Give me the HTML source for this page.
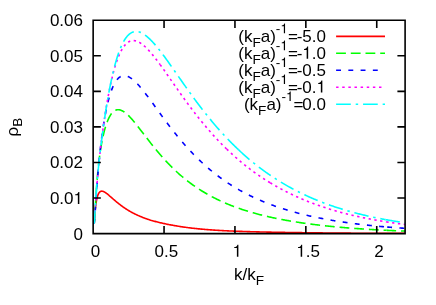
<!DOCTYPE html>
<html><head><meta charset="utf-8"><title>plot</title>
<style>
html,body{margin:0;padding:0;background:#fff;}
body{width:436px;height:305px;overflow:hidden;}
svg{display:block;opacity:0.999;will-change:transform;}
text{font-family:"Liberation Sans",sans-serif;font-size:17px;fill:#000;}
.s{font-size:13.6px;}
.h{fill:none;}
</style></head><body>
<svg width="436" height="305" viewBox="0 0 436 305">
<rect x="0" y="0" width="436" height="305" fill="#fff"/>
<defs><clipPath id="c"><rect x="93.15" y="20.20" width="311.95" height="213.40"/></clipPath></defs>
<g fill="none" stroke-width="1.60" clip-path="url(#c)">
<path d="M94.12,223.82 L94.14,223.52 L94.16,223.21 L94.18,222.90 L94.20,222.58 L94.22,222.26 L94.24,221.93 L94.27,221.60 L94.29,221.26 L94.31,220.92 L94.34,220.57 L94.36,220.22 L94.39,219.87 L94.41,219.51 L94.44,219.14 L94.47,218.78 L94.49,218.40 L94.52,218.03 L94.55,217.65 L94.58,217.27 L94.61,216.88 L94.64,216.49 L94.67,216.10 L94.70,215.71 L94.73,215.31 L94.76,214.91 L94.80,214.51 L94.83,214.11 L94.87,213.70 L94.90,213.29 L94.94,212.88 L94.97,212.47 L95.01,212.06 L95.05,211.64 L95.09,211.23 L95.13,210.82 L95.17,210.40 L95.21,209.98 L95.26,209.57 L95.30,209.15 L95.34,208.74 L95.39,208.32 L95.44,207.91 L95.48,207.49 L95.53,207.08 L95.58,206.67 L95.63,206.26 L95.68,205.85 L95.73,205.44 L95.79,205.04 L95.84,204.64 L95.90,204.24 L95.95,203.84 L96.01,203.45 L96.07,203.05 L96.13,202.67 L96.19,202.28 L96.26,201.90 L96.32,201.53 L96.39,201.15 L96.45,200.78 L96.52,200.42 L96.59,200.06 L96.66,199.71 L96.73,199.36 L96.81,199.01 L96.88,198.67 L96.96,198.34 L97.04,198.01 L97.12,197.69 L97.20,197.37 L97.29,197.06 L97.37,196.76 L97.46,196.46 L97.55,196.17 L97.64,195.89 L97.73,195.61 L97.83,195.34 L97.92,195.08 L98.02,194.82 L98.12,194.58 L98.22,194.34 L98.33,194.11 L98.44,193.88 L98.55,193.67 L98.66,193.46 L98.77,193.26 L98.89,193.07 L99.01,192.89 L99.13,192.71 L99.25,192.55 L99.38,192.39 L99.50,192.25 L99.64,192.11 L99.77,191.98 L99.91,191.86 L100.05,191.75 L100.19,191.65 L100.33,191.56 L100.48,191.47 L100.63,191.40 L100.79,191.34 L100.95,191.29 L101.11,191.24 L101.27,191.21 L101.44,191.18 L101.61,191.17 L101.79,191.16 L101.97,191.17 L102.15,191.18 L102.33,191.21 L102.52,191.24 L102.72,191.29 L102.92,191.34 L103.12,191.41 L103.32,191.48 L103.53,191.56 L103.75,191.66 L103.97,191.76 L104.19,191.87 L104.42,191.99 L104.65,192.13 L104.89,192.27 L105.13,192.42 L105.38,192.58 L105.63,192.75 L105.89,192.93 L106.15,193.12 L106.42,193.31 L106.70,193.52 L106.98,193.74 L107.26,193.96 L107.55,194.19 L107.85,194.44 L108.16,194.69 L108.47,194.94 L108.78,195.21 L109.10,195.49 L109.43,195.77 L109.77,196.06 L110.11,196.36 L110.47,196.66 L110.82,196.98 L111.19,197.30 L111.56,197.62 L111.94,197.96 L112.33,198.30 L112.73,198.64 L113.13,199.00 L113.54,199.36 L113.97,199.72 L114.40,200.09 L114.84,200.47 L115.28,200.85 L115.74,201.24 L116.21,201.63 L116.68,202.03 L117.17,202.43 L117.67,202.83 L118.17,203.24 L118.69,203.65 L119.22,204.07 L119.76,204.49 L120.31,204.91 L120.87,205.33 L121.44,205.76 L122.03,206.19 L122.62,206.62 L123.23,207.05 L123.85,207.48 L124.49,207.92 L125.14,208.35 L125.80,208.79 L126.47,209.23 L127.16,209.66 L127.86,210.10 L128.58,210.54 L129.31,210.97 L130.06,211.40 L130.82,211.84 L131.60,212.27 L132.40,212.70 L133.21,213.13 L134.04,213.55 L134.88,213.98 L135.74,214.40 L136.62,214.81 L137.52,215.23 L138.44,215.64 L139.38,216.05 L140.33,216.45 L141.31,216.85 L142.30,217.25 L143.32,217.64 L144.35,218.03 L145.41,218.41 L146.49,218.79 L147.59,219.16 L148.72,219.53 L149.87,219.89 L150.72,220.16 L151.58,220.41 L152.43,220.66 L153.28,220.91 L154.14,221.15 L154.99,221.38 L155.84,221.61 L156.70,221.83 L157.55,222.05 L158.40,222.26 L159.26,222.47 L160.11,222.68 L160.97,222.88 L161.82,223.07 L162.67,223.27 L163.53,223.46 L164.38,223.64 L165.23,223.82 L166.09,224.00 L166.94,224.18 L167.79,224.35 L168.65,224.52 L169.50,224.68 L170.36,224.84 L171.21,225.00 L172.06,225.16 L172.92,225.31 L173.77,225.47 L174.62,225.62 L175.48,225.76 L176.33,225.91 L177.18,226.05 L178.04,226.19 L178.89,226.32 L179.74,226.46 L180.60,226.59 L181.45,226.72 L182.31,226.84 L183.16,226.97 L184.01,227.09 L184.87,227.21 L185.72,227.33 L186.57,227.45 L187.43,227.56 L188.28,227.67 L189.13,227.78 L189.99,227.89 L190.84,227.99 L191.70,228.09 L192.55,228.19 L193.40,228.29 L194.26,228.39 L195.11,228.48 L195.96,228.57 L196.82,228.66 L197.67,228.75 L198.52,228.84 L199.38,228.92 L200.23,229.01 L201.09,229.09 L201.94,229.17 L202.79,229.24 L203.65,229.32 L204.50,229.39 L205.35,229.46 L206.21,229.53 L207.06,229.60 L207.91,229.67 L208.77,229.73 L209.62,229.80 L210.48,229.86 L211.33,229.92 L212.18,229.98 L213.04,230.04 L213.89,230.09 L214.74,230.15 L215.60,230.20 L216.45,230.26 L217.30,230.31 L218.16,230.36 L219.01,230.41 L219.86,230.46 L220.72,230.51 L221.57,230.55 L222.43,230.60 L223.28,230.64 L224.13,230.69 L224.99,230.73 L225.84,230.77 L226.69,230.81 L227.55,230.85 L228.40,230.89 L229.25,230.93 L230.11,230.97 L230.96,231.00 L231.82,231.04 L232.67,231.07 L233.52,231.11 L234.38,231.14 L235.23,231.18 L236.08,231.21 L236.94,231.24 L237.79,231.27 L238.64,231.30 L239.50,231.33 L240.35,231.36 L241.21,231.39 L242.06,231.42 L242.91,231.45 L243.77,231.48 L244.62,231.51 L245.47,231.53 L246.33,231.56 L247.18,231.58 L248.03,231.61 L248.89,231.63 L249.74,231.66 L250.60,231.68 L251.45,231.71 L252.30,231.73 L253.16,231.75 L254.01,231.78 L254.86,231.80 L255.72,231.82 L256.57,231.84 L257.42,231.86 L258.28,231.88 L259.13,231.90 L259.98,231.93 L260.84,231.95 L261.69,231.97 L262.55,231.98 L263.40,232.00 L264.25,232.02 L265.11,232.04 L265.96,232.06 L266.81,232.08 L267.67,232.10 L268.52,232.12 L269.37,232.13 L270.23,232.15 L271.08,232.17 L271.94,232.18 L272.79,232.20 L273.64,232.22 L274.50,232.23 L275.35,232.25 L276.20,232.27 L277.06,232.28 L277.91,232.30 L278.76,232.31 L279.62,232.33 L280.47,232.34 L281.33,232.36 L282.18,232.37 L283.03,232.39 L283.89,232.40 L284.74,232.42 L285.59,232.43 L286.45,232.45 L287.30,232.46 L288.15,232.47 L289.01,232.49 L289.86,232.50 L290.72,232.51 L291.57,232.53 L292.42,232.54 L293.28,232.55 L294.13,232.56 L294.98,232.58 L295.84,232.59 L296.69,232.60 L297.54,232.61 L298.40,232.63 L299.25,232.64 L300.10,232.65 L300.96,232.66 L301.81,232.67 L302.67,232.68 L303.52,232.69 L304.37,232.71 L305.23,232.72 L306.08,232.73 L306.93,232.74 L307.79,232.75 L308.64,232.76 L309.49,232.77 L310.35,232.78 L311.20,232.79 L312.06,232.80 L312.91,232.81 L313.76,232.82 L314.62,232.83 L315.47,232.84 L316.32,232.85 L317.18,232.86 L318.03,232.87 L318.88,232.88 L319.74,232.89 L320.59,232.90 L321.45,232.91 L322.30,232.92 L323.15,232.93 L324.01,232.93 L324.86,232.94 L325.71,232.95 L326.57,232.96 L327.42,232.97 L328.27,232.98 L329.13,232.99 L329.98,232.99 L330.84,233.00 L331.69,233.01 L332.54,233.02 L333.40,233.03 L334.25,233.03 L335.10,233.04 L335.96,233.05 L336.81,233.06 L337.66,233.07 L338.52,233.07 L339.37,233.08 L340.23,233.09 L341.08,233.09 L341.93,233.10 L342.79,233.11 L343.64,233.12 L344.49,233.12 L345.35,233.13 L346.20,233.14 L347.05,233.14 L347.91,233.15 L348.76,233.16 L349.61,233.16 L350.47,233.17 L351.32,233.18 L352.18,233.18 L353.03,233.19 L353.88,233.19 L354.74,233.20 L355.59,233.21 L356.44,233.21 L357.30,233.22 L358.15,233.22 L359.00,233.23 L359.86,233.24 L360.71,233.24 L361.57,233.25 L362.42,233.25 L363.27,233.26 L364.13,233.26 L364.98,233.27 L365.83,233.27 L366.69,233.28 L367.54,233.28 L368.39,233.29 L369.25,233.29 L370.10,233.30 L370.96,233.30 L371.81,233.31 L372.66,233.31 L373.52,233.31 L374.37,233.32 L375.22,233.32 L376.08,233.33 L376.93,233.33 L377.78,233.33 L378.64,233.34 L379.49,233.34 L380.35,233.35 L381.20,233.35 L382.05,233.35 L382.91,233.36 L383.76,233.36 L384.61,233.36 L385.47,233.37 L386.32,233.37 L387.17,233.37 L388.03,233.38 L388.88,233.38 L389.73,233.38 L390.59,233.38 L391.44,233.39 L392.30,233.39 L393.15,233.39 L394.00,233.39 L394.86,233.40 L395.71,233.40 L396.56,233.40 L397.42,233.40 L398.27,233.40 L399.12,233.41 L399.98,233.41 L400.83,233.41 L401.69,233.41 L402.54,233.41 L403.39,233.41 L404.25,233.42 L405.10,233.42" stroke="#ff0000"/>
<path d="M94.18,223.91 L94.20,223.74 L94.22,223.56 L94.24,223.36 L94.27,223.14 L94.29,222.91 L94.31,222.66 L94.34,222.40 L94.36,222.12 L94.39,221.82 L94.41,221.51 L94.44,221.18 L94.47,220.83 L94.49,220.47 L94.52,220.09 L94.55,219.70 L94.58,219.28 L94.61,218.85 L94.64,218.40 L94.67,217.94 L94.70,217.46 L94.73,216.96 L94.76,216.44 L94.80,215.91 L94.83,215.36 L94.87,214.79 L94.90,214.20 L94.94,213.60 L94.97,212.98 L95.01,212.34 L95.05,211.69 L95.09,211.02 L95.13,210.33 L95.17,209.63 L95.21,208.91 L95.26,208.17 L95.30,207.42 L95.34,206.66 L95.39,205.88 L95.44,205.09 L95.48,204.28 L95.53,203.46 L95.58,202.62 L95.63,201.78 L95.68,200.92 L95.73,200.05 L95.79,199.16 L95.84,198.27 L95.90,197.37 L95.95,196.46 L96.01,195.53 L96.07,194.60 L96.13,193.67 L96.19,192.72 L96.26,191.77 L96.32,190.81 L96.39,189.84 L96.45,188.87 L96.52,187.89 L96.59,186.91 L96.66,185.92 L96.73,184.93 L96.81,183.93 L96.88,182.94 L96.96,181.94 L97.04,180.93 L97.12,179.93 L97.20,178.92 L97.29,177.92 L97.37,176.91 L97.46,175.90 L97.55,174.89 L97.64,173.88 L97.73,172.88 L97.83,171.87 L97.92,170.86 L98.02,169.85 L98.12,168.85 L98.22,167.84 L98.33,166.84 L98.44,165.84 L98.55,164.84 L98.66,163.84 L98.77,162.84 L98.89,161.85 L99.01,160.85 L99.13,159.86 L99.25,158.87 L99.38,157.89 L99.50,156.90 L99.64,155.92 L99.77,154.94 L99.91,153.97 L100.05,152.99 L100.19,152.02 L100.33,151.05 L100.48,150.09 L100.63,149.12 L100.79,148.16 L100.95,147.20 L101.11,146.25 L101.27,145.30 L101.44,144.35 L101.61,143.41 L101.79,142.47 L101.97,141.53 L102.15,140.60 L102.33,139.67 L102.52,138.74 L102.72,137.82 L102.92,136.91 L103.12,136.00 L103.32,135.09 L103.53,134.20 L103.75,133.30 L103.97,132.42 L104.19,131.54 L104.42,130.67 L104.65,129.81 L104.89,128.95 L105.13,128.11 L105.38,127.27 L105.63,126.44 L105.89,125.63 L106.15,124.82 L106.42,124.03 L106.70,123.25 L106.98,122.48 L107.26,121.73 L107.55,120.99 L107.85,120.27 L108.16,119.56 L108.47,118.87 L108.78,118.20 L109.10,117.54 L109.43,116.91 L109.77,116.29 L110.11,115.70 L110.47,115.13 L110.82,114.58 L111.19,114.06 L111.56,113.56 L111.94,113.08 L112.33,112.64 L112.73,112.22 L113.13,111.83 L113.54,111.47 L113.97,111.14 L114.40,110.84 L114.84,110.57 L115.28,110.34 L115.74,110.14 L116.21,109.97 L116.68,109.84 L117.17,109.75 L117.67,109.70 L118.17,109.68 L118.69,109.70 L119.22,109.76 L119.76,109.86 L120.31,110.00 L120.87,110.19 L121.44,110.41 L122.03,110.68 L122.62,110.99 L123.23,111.34 L123.85,111.73 L124.49,112.17 L125.14,112.65 L125.80,113.17 L126.47,113.74 L127.16,114.35 L127.86,115.00 L128.58,115.69 L129.31,116.43 L130.06,117.21 L130.82,118.04 L131.60,118.90 L132.40,119.80 L133.21,120.75 L134.04,121.73 L134.88,122.75 L135.74,123.81 L136.62,124.91 L137.52,126.05 L138.44,127.21 L139.38,128.42 L140.33,129.65 L141.31,130.92 L142.30,132.21 L143.32,133.54 L144.35,134.90 L145.41,136.28 L146.49,137.68 L147.59,139.11 L148.72,140.56 L149.87,142.03 L150.72,143.12 L151.58,144.20 L152.43,145.28 L153.28,146.34 L154.14,147.40 L154.99,148.45 L155.84,149.49 L156.70,150.52 L157.55,151.55 L158.40,152.56 L159.26,153.56 L160.11,154.56 L160.97,155.54 L161.82,156.51 L162.67,157.48 L163.53,158.43 L164.38,159.37 L165.23,160.30 L166.09,161.23 L166.94,162.14 L167.79,163.04 L168.65,163.93 L169.50,164.81 L170.36,165.67 L171.21,166.53 L172.06,167.38 L172.92,168.22 L173.77,169.04 L174.62,169.86 L175.48,170.66 L176.33,171.46 L177.18,172.24 L178.04,173.02 L178.89,173.78 L179.74,174.54 L180.60,175.28 L181.45,176.02 L182.31,176.74 L183.16,177.46 L184.01,178.17 L184.87,178.86 L185.72,179.55 L186.57,180.23 L187.43,180.90 L188.28,181.56 L189.13,182.21 L189.99,182.86 L190.84,183.49 L191.70,184.12 L192.55,184.73 L193.40,185.34 L194.26,185.94 L195.11,186.54 L195.96,187.12 L196.82,187.70 L197.67,188.27 L198.52,188.83 L199.38,189.38 L200.23,189.93 L201.09,190.47 L201.94,191.00 L202.79,191.52 L203.65,192.04 L204.50,192.55 L205.35,193.05 L206.21,193.55 L207.06,194.04 L207.91,194.52 L208.77,195.00 L209.62,195.47 L210.48,195.93 L211.33,196.39 L212.18,196.84 L213.04,197.29 L213.89,197.73 L214.74,198.16 L215.60,198.59 L216.45,199.02 L217.30,199.43 L218.16,199.84 L219.01,200.25 L219.86,200.65 L220.72,201.05 L221.57,201.44 L222.43,201.82 L223.28,202.20 L224.13,202.58 L224.99,202.95 L225.84,203.31 L226.69,203.67 L227.55,204.03 L228.40,204.38 L229.25,204.73 L230.11,205.07 L230.96,205.40 L231.82,205.74 L232.67,206.07 L233.52,206.39 L234.38,206.71 L235.23,207.03 L236.08,207.34 L236.94,207.65 L237.79,207.95 L238.64,208.26 L239.50,208.55 L240.35,208.85 L241.21,209.13 L242.06,209.42 L242.91,209.70 L243.77,209.98 L244.62,210.26 L245.47,210.53 L246.33,210.80 L247.18,211.06 L248.03,211.32 L248.89,211.58 L249.74,211.83 L250.60,212.09 L251.45,212.34 L252.30,212.58 L253.16,212.82 L254.01,213.06 L254.86,213.30 L255.72,213.53 L256.57,213.77 L257.42,213.99 L258.28,214.22 L259.13,214.44 L259.98,214.66 L260.84,214.88 L261.69,215.10 L262.55,215.31 L263.40,215.52 L264.25,215.73 L265.11,215.93 L265.96,216.14 L266.81,216.34 L267.67,216.53 L268.52,216.73 L269.37,216.92 L270.23,217.11 L271.08,217.30 L271.94,217.49 L272.79,217.67 L273.64,217.86 L274.50,218.04 L275.35,218.22 L276.20,218.39 L277.06,218.57 L277.91,218.74 L278.76,218.91 L279.62,219.08 L280.47,219.24 L281.33,219.41 L282.18,219.57 L283.03,219.73 L283.89,219.89 L284.74,220.05 L285.59,220.20 L286.45,220.36 L287.30,220.51 L288.15,220.66 L289.01,220.81 L289.86,220.95 L290.72,221.10 L291.57,221.24 L292.42,221.38 L293.28,221.52 L294.13,221.66 L294.98,221.80 L295.84,221.93 L296.69,222.07 L297.54,222.20 L298.40,222.33 L299.25,222.46 L300.10,222.59 L300.96,222.72 L301.81,222.84 L302.67,222.97 L303.52,223.09 L304.37,223.21 L305.23,223.33 L306.08,223.45 L306.93,223.56 L307.79,223.68 L308.64,223.80 L309.49,223.91 L310.35,224.02 L311.20,224.13 L312.06,224.24 L312.91,224.35 L313.76,224.46 L314.62,224.56 L315.47,224.67 L316.32,224.77 L317.18,224.87 L318.03,224.98 L318.88,225.08 L319.74,225.18 L320.59,225.27 L321.45,225.37 L322.30,225.47 L323.15,225.56 L324.01,225.66 L324.86,225.75 L325.71,225.84 L326.57,225.93 L327.42,226.02 L328.27,226.11 L329.13,226.20 L329.98,226.28 L330.84,226.37 L331.69,226.46 L332.54,226.54 L333.40,226.62 L334.25,226.71 L335.10,226.79 L335.96,226.87 L336.81,226.95 L337.66,227.03 L338.52,227.10 L339.37,227.18 L340.23,227.26 L341.08,227.33 L341.93,227.41 L342.79,227.48 L343.64,227.55 L344.49,227.62 L345.35,227.70 L346.20,227.77 L347.05,227.84 L347.91,227.91 L348.76,227.97 L349.61,228.04 L350.47,228.11 L351.32,228.17 L352.18,228.24 L353.03,228.30 L353.88,228.37 L354.74,228.43 L355.59,228.49 L356.44,228.55 L357.30,228.61 L358.15,228.67 L359.00,228.73 L359.86,228.79 L360.71,228.85 L361.57,228.91 L362.42,228.96 L363.27,229.02 L364.13,229.08 L364.98,229.13 L365.83,229.19 L366.69,229.24 L367.54,229.29 L368.39,229.34 L369.25,229.40 L370.10,229.45 L370.96,229.50 L371.81,229.55 L372.66,229.60 L373.52,229.65 L374.37,229.69 L375.22,229.74 L376.08,229.79 L376.93,229.84 L377.78,229.88 L378.64,229.93 L379.49,229.97 L380.35,230.02 L381.20,230.06 L382.05,230.10 L382.91,230.15 L383.76,230.19 L384.61,230.23 L385.47,230.27 L386.32,230.31" stroke="#00ff00" stroke-dasharray="9.80,4.90"/>
<path d="M386.32,230.31 L387.17,230.35 L388.03,230.39 L388.88,230.43 L389.73,230.47 L390.59,230.51 L391.44,230.54 L392.30,230.58 L393.15,230.62 L394.00,230.65 L394.86,230.69 L395.71,230.73 L396.56,230.76 L397.42,230.79 L398.27,230.83 L399.12,230.86 L399.98,230.90 L400.83,230.93 L401.69,230.96 L402.54,230.99 L403.39,231.02 L404.25,231.05 L405.10,231.08" stroke="#00ff00" stroke-dasharray="9.80,4.90"/>
<path d="M94.12,223.93 L94.14,223.82 L94.16,223.70 L94.18,223.56 L94.20,223.41 L94.22,223.25 L94.24,223.08 L94.27,222.89 L94.29,222.69 L94.31,222.48 L94.34,222.26 L94.36,222.02 L94.39,221.77 L94.41,221.51 L94.44,221.23 L94.47,220.95 L94.49,220.65 L94.52,220.33 L94.55,220.01 L94.58,219.66 L94.61,219.31 L94.64,218.94 L94.67,218.56 L94.70,218.17 L94.73,217.76 L94.76,217.33 L94.80,216.89 L94.83,216.44 L94.87,215.97 L94.90,215.49 L94.94,214.99 L94.97,214.48 L95.01,213.96 L95.05,213.41 L95.09,212.86 L95.13,212.28 L95.17,211.70 L95.21,211.09 L95.26,210.48 L95.30,209.84 L95.34,209.19 L95.39,208.53 L95.44,207.85 L95.48,207.16 L95.53,206.45 L95.58,205.72 L95.63,204.98 L95.68,204.22 L95.73,203.45 L95.79,202.67 L95.84,201.87 L95.90,201.05 L95.95,200.22 L96.01,199.37 L96.07,198.51 L96.13,197.64 L96.19,196.75 L96.26,195.85 L96.32,194.93 L96.39,194.00 L96.45,193.06 L96.52,192.10 L96.59,191.13 L96.66,190.14 L96.73,189.15 L96.81,188.14 L96.88,187.11 L96.96,186.08 L97.04,185.03 L97.12,183.97 L97.20,182.90 L97.29,181.82 L97.37,180.73 L97.46,179.62 L97.55,178.51 L97.64,177.38 L97.73,176.24 L97.83,175.10 L97.92,173.94 L98.02,172.77 L98.12,171.59 L98.22,170.41 L98.33,169.21 L98.44,168.01 L98.55,166.79 L98.66,165.57 L98.77,164.34 L98.89,163.10 L99.01,161.85 L99.13,160.60 L99.25,159.34 L99.38,158.07 L99.50,156.79 L99.64,155.51 L99.77,154.22 L99.91,152.92 L100.05,151.62 L100.19,150.31 L100.33,149.00 L100.48,147.68 L100.63,146.36 L100.79,145.03 L100.95,143.70 L101.11,142.36 L101.27,141.02 L101.44,139.68 L101.61,138.33 L101.79,136.98 L101.97,135.63 L102.15,134.28 L102.33,132.92 L102.52,131.57 L102.72,130.21 L102.92,128.86 L103.12,127.50 L103.32,126.14 L103.53,124.79 L103.75,123.44 L103.97,122.09 L104.19,120.74 L104.42,119.40 L104.65,118.06 L104.89,116.72 L105.13,115.39 L105.38,114.07 L105.63,112.75 L105.89,111.45 L106.15,110.14 L106.42,108.85 L106.70,107.57 L106.98,106.30 L107.26,105.04 L107.55,103.79 L107.85,102.56 L108.16,101.34 L108.47,100.13 L108.78,98.94 L109.10,97.77 L109.43,96.61 L109.77,95.48 L110.11,94.36 L110.47,93.27 L110.82,92.19 L111.19,91.14 L111.56,90.12 L111.94,89.12 L112.33,88.14 L112.73,87.20 L113.13,86.28 L113.54,85.39 L113.97,84.53 L114.40,83.71 L114.84,82.92 L115.28,82.16 L115.74,81.44 L116.21,80.76 L116.68,80.11 L117.17,79.50 L117.67,78.94 L118.17,78.41 L118.69,77.93 L119.22,77.49 L119.76,77.10 L120.31,76.75 L120.87,76.45 L121.44,76.19 L122.03,75.98 L122.62,75.83 L123.23,75.72 L123.85,75.67 L124.49,75.66 L125.14,75.71 L125.80,75.81 L126.47,75.97 L127.16,76.18 L127.86,76.45 L128.58,76.77 L129.31,77.14 L130.06,77.58 L130.82,78.07 L131.60,78.61 L132.40,79.22 L133.21,79.88 L134.04,80.59 L134.88,81.36 L135.74,82.19 L136.62,83.08 L137.52,84.02 L138.44,85.01 L139.38,86.06 L140.33,87.17 L141.31,88.33 L142.30,89.54 L143.32,90.80 L144.35,92.12 L145.41,93.48 L146.49,94.89 L147.59,96.35 L148.72,97.86 L149.87,99.42 L150.72,100.58 L151.58,101.75 L152.43,102.92 L153.28,104.09 L154.14,105.27 L154.99,106.45 L155.84,107.63 L156.70,108.81 L157.55,109.99 L158.40,111.17 L159.26,112.35 L160.11,113.52 L160.97,114.69 L161.82,115.86 L162.67,117.02 L163.53,118.18 L164.38,119.34 L165.23,120.49 L166.09,121.63 L166.94,122.77 L167.79,123.91 L168.65,125.03 L169.50,126.15 L170.36,127.26 L171.21,128.37 L172.06,129.47 L172.92,130.56 L173.77,131.64 L174.62,132.72 L175.48,133.78 L176.33,134.84 L177.18,135.89 L178.04,136.93 L178.89,137.97 L179.74,138.99 L180.60,140.01 L181.45,141.01 L182.31,142.01 L183.16,143.00 L184.01,143.98 L184.87,144.96 L185.72,145.92 L186.57,146.87 L187.43,147.82 L188.28,148.76 L189.13,149.68 L189.99,150.60 L190.84,151.51 L191.70,152.41 L192.55,153.30 L193.40,154.19 L194.26,155.06 L195.11,155.92 L195.96,156.78 L196.82,157.63 L197.67,158.47 L198.52,159.30 L199.38,160.12 L200.23,160.93 L201.09,161.73 L201.94,162.53 L202.79,163.32 L203.65,164.10 L204.50,164.87 L205.35,165.63 L206.21,166.38 L207.06,167.13 L207.91,167.87 L208.77,168.60 L209.62,169.32 L210.48,170.03 L211.33,170.74 L212.18,171.44 L213.04,172.13 L213.89,172.81 L214.74,173.49 L215.60,174.16 L216.45,174.82 L217.30,175.47 L218.16,176.12 L219.01,176.75 L219.86,177.39 L220.72,178.01 L221.57,178.63 L222.43,179.24 L223.28,179.84 L224.13,180.44 L224.99,181.03 L225.84,181.61 L226.69,182.19 L227.55,182.76 L228.40,183.32 L229.25,183.88 L230.11,184.43 L230.96,184.98 L231.82,185.52 L232.67,186.05 L233.52,186.57 L234.38,187.10 L235.23,187.61 L236.08,188.12 L236.94,188.62 L237.79,189.12 L238.64,189.61 L239.50,190.10 L240.35,190.58 L241.21,191.05 L242.06,191.52 L242.91,191.99 L243.77,192.44 L244.62,192.90 L245.47,193.35 L246.33,193.79 L247.18,194.23 L248.03,194.66 L248.89,195.09 L249.74,195.51 L250.60,195.93 L251.45,196.34 L252.30,196.75 L253.16,197.16 L254.01,197.56 L254.86,197.95 L255.72,198.34 L256.57,198.73 L257.42,199.11 L258.28,199.49 L259.13,199.86 L259.98,200.23 L260.84,200.60 L261.69,200.96 L262.55,201.32 L263.40,201.67 L264.25,202.02 L265.11,202.37 L265.96,202.71 L266.81,203.05 L267.67,203.38 L268.52,203.71 L269.37,204.04 L270.23,204.36 L271.08,204.68 L271.94,204.99 L272.79,205.31 L273.64,205.61 L274.50,205.92 L275.35,206.22 L276.20,206.52 L277.06,206.81 L277.91,207.11 L278.76,207.39 L279.62,207.68 L280.47,207.96 L281.33,208.24 L282.18,208.52 L283.03,208.79 L283.89,209.06 L284.74,209.33 L285.59,209.59 L286.45,209.85 L287.30,210.11 L288.15,210.37 L289.01,210.62 L289.86,210.87 L290.72,211.11 L291.57,211.36 L292.42,211.60 L293.28,211.84 L294.13,212.08 L294.98,212.31 L295.84,212.54 L296.69,212.77 L297.54,212.99 L298.40,213.22 L299.25,213.44 L300.10,213.66 L300.96,213.87 L301.81,214.09 L302.67,214.30 L303.52,214.51 L304.37,214.72 L305.23,214.92 L306.08,215.12 L306.93,215.32 L307.79,215.52 L308.64,215.72 L309.49,215.91 L310.35,216.10 L311.20,216.29 L312.06,216.48 L312.91,216.66 L313.76,216.85 L314.62,217.03 L315.47,217.21 L316.32,217.39 L317.18,217.56 L318.03,217.74 L318.88,217.91 L319.74,218.08 L320.59,218.25 L321.45,218.41 L322.30,218.58 L323.15,218.74 L324.01,218.90 L324.86,219.06 L325.71,219.22 L326.57,219.37 L327.42,219.53 L328.27,219.68 L329.13,219.83 L329.98,219.98 L330.84,220.13 L331.69,220.27 L332.54,220.42 L333.40,220.56 L334.25,220.70 L335.10,220.84 L335.96,220.98 L336.81,221.11 L337.66,221.25 L338.52,221.38 L339.37,221.52 L340.23,221.65 L341.08,221.78 L341.93,221.90 L342.79,222.03 L343.64,222.16 L344.49,222.28 L345.35,222.40 L346.20,222.52 L347.05,222.64 L347.91,222.76 L348.76,222.88 L349.61,223.00 L350.47,223.11 L351.32,223.22 L352.18,223.34 L353.03,223.45 L353.88,223.56 L354.74,223.67 L355.59,223.77 L356.44,223.88 L357.30,223.99 L358.15,224.09 L359.00,224.19 L359.86,224.29 L360.71,224.40 L361.57,224.50 L362.42,224.59 L363.27,224.69 L364.13,224.79 L364.98,224.88 L365.83,224.98 L366.69,225.07 L367.54,225.16 L368.39,225.25 L369.25,225.34 L370.10,225.43 L370.96,225.52 L371.81,225.61 L372.66,225.69 L373.52,225.78 L374.37,225.86 L375.22,225.95 L376.08,226.03 L376.93,226.11 L377.78,226.19 L378.64,226.27 L379.49,226.35 L380.35,226.43 L381.20,226.51 L382.05,226.58 L382.91,226.66 L383.76,226.73 L384.61,226.81 L385.47,226.88 L386.32,226.95 L387.17,227.02" stroke="#0000ff" stroke-dasharray="4.90,7.35"/>
<path d="M387.17,227.02 L388.03,227.09 L388.88,227.16 L389.73,227.23 L390.59,227.30 L391.44,227.37 L392.30,227.43 L393.15,227.50 L394.00,227.56 L394.86,227.63 L395.71,227.69 L396.56,227.75 L397.42,227.82 L398.27,227.88 L399.12,227.94 L399.98,228.00 L400.83,228.06 L401.69,228.12 L402.54,228.17 L403.39,228.23 L404.25,228.29 L405.10,228.34" stroke="#0000ff" stroke-dasharray="4.90,7.35"/>
<path d="M94.12,223.97 L94.14,223.85 L94.16,223.71 L94.18,223.55 L94.20,223.39 L94.22,223.21 L94.24,223.01 L94.27,222.80 L94.29,222.58 L94.31,222.34 L94.34,222.09 L94.36,221.83 L94.39,221.55 L94.41,221.25 L94.44,220.95 L94.47,220.63 L94.49,220.29 L94.52,219.94 L94.55,219.58 L94.58,219.20 L94.61,218.81 L94.64,218.40 L94.67,217.98 L94.70,217.54 L94.73,217.09 L94.76,216.63 L94.80,216.15 L94.83,215.65 L94.87,215.14 L94.90,214.62 L94.94,214.08 L94.97,213.53 L95.01,212.96 L95.05,212.38 L95.09,211.78 L95.13,211.17 L95.17,210.54 L95.21,209.90 L95.26,209.25 L95.30,208.59 L95.34,207.90 L95.39,207.21 L95.44,206.50 L95.48,205.78 L95.53,205.05 L95.58,204.30 L95.63,203.54 L95.68,202.77 L95.73,201.99 L95.79,201.19 L95.84,200.39 L95.90,199.57 L95.95,198.74 L96.01,197.90 L96.07,197.04 L96.13,196.18 L96.19,195.31 L96.26,194.42 L96.32,193.53 L96.39,192.62 L96.45,191.71 L96.52,190.79 L96.59,189.85 L96.66,188.91 L96.73,187.96 L96.81,186.99 L96.88,186.02 L96.96,185.04 L97.04,184.05 L97.12,183.06 L97.20,182.05 L97.29,181.03 L97.37,180.01 L97.46,178.98 L97.55,177.94 L97.64,176.89 L97.73,175.83 L97.83,174.76 L97.92,173.69 L98.02,172.60 L98.12,171.51 L98.22,170.40 L98.33,169.29 L98.44,168.17 L98.55,167.04 L98.66,165.90 L98.77,164.75 L98.89,163.59 L99.01,162.42 L99.13,161.24 L99.25,160.06 L99.38,158.86 L99.50,157.65 L99.64,156.43 L99.77,155.20 L99.91,153.95 L100.05,152.70 L100.19,151.44 L100.33,150.16 L100.48,148.88 L100.63,147.58 L100.79,146.27 L100.95,144.95 L101.11,143.61 L101.27,142.26 L101.44,140.91 L101.61,139.54 L101.79,138.15 L101.97,136.76 L102.15,135.35 L102.33,133.93 L102.52,132.49 L102.72,131.05 L102.92,129.59 L103.12,128.12 L103.32,126.63 L103.53,125.14 L103.75,123.63 L103.97,122.11 L104.19,120.58 L104.42,119.04 L104.65,117.49 L104.89,115.92 L105.13,114.35 L105.38,112.76 L105.63,111.17 L105.89,109.57 L106.15,107.96 L106.42,106.34 L106.70,104.71 L106.98,103.07 L107.26,101.43 L107.55,99.79 L107.85,98.14 L108.16,96.49 L108.47,94.83 L108.78,93.17 L109.10,91.51 L109.43,89.85 L109.77,88.20 L110.11,86.54 L110.47,84.89 L110.82,83.24 L111.19,81.60 L111.56,79.97 L111.94,78.35 L112.33,76.74 L112.73,75.13 L113.13,73.55 L113.54,71.97 L113.97,70.42 L114.40,68.88 L114.84,67.37 L115.28,65.87 L115.74,64.40 L116.21,62.95 L116.68,61.54 L117.17,60.15 L117.67,58.79 L118.17,57.47 L118.69,56.18 L119.22,54.93 L119.76,53.71 L120.31,52.54 L120.87,51.41 L121.44,50.33 L122.03,49.29 L122.62,48.30 L123.23,47.37 L123.85,46.48 L124.49,45.65 L125.14,44.88 L125.80,44.17 L126.47,43.51 L127.16,42.92 L127.86,42.39 L128.58,41.92 L129.31,41.53 L130.06,41.20 L130.82,40.94 L131.60,40.75 L132.40,40.63 L133.21,40.58 L134.04,40.61 L134.88,40.72 L135.74,40.90 L136.62,41.16 L137.52,41.49 L138.44,41.90 L139.38,42.39 L140.33,42.96 L141.31,43.61 L142.30,44.34 L143.32,45.15 L144.35,46.03 L145.41,47.00 L146.49,48.04 L147.59,49.16 L148.72,50.35 L149.87,51.62 L150.72,52.60 L151.58,53.60 L152.43,54.62 L153.28,55.67 L154.14,56.73 L154.99,57.81 L155.84,58.91 L156.70,60.03 L157.55,61.16 L158.40,62.30 L159.26,63.45 L160.11,64.62" stroke="#ff00ff" stroke-dasharray="2.34,3.51"/>
<path d="M160.11,64.62 L160.97,65.79 L161.82,66.97 L162.67,68.17 L163.53,69.36 L164.38,70.57 L165.23,71.78 L166.09,72.99 L166.94,74.21 L167.79,75.43 L168.65,76.65 L169.50,77.88 L170.36,79.10 L171.21,80.33 L172.06,81.56 L172.92,82.79 L173.77,84.01 L174.62,85.24 L175.48,86.46 L176.33,87.68 L177.18,88.90 L178.04,90.11 L178.89,91.33 L179.74,92.53 L180.60,93.74 L181.45,94.94 L182.31,96.14 L183.16,97.33 L184.01,98.51 L184.87,99.69 L185.72,100.87 L186.57,102.04 L187.43,103.20 L188.28,104.36 L189.13,105.52 L189.99,106.66 L190.84,107.80 L191.70,108.94 L192.55,110.06 L193.40,111.18 L194.26,112.30 L195.11,113.40 L195.96,114.50 L196.82,115.59 L197.67,116.68 L198.52,117.76 L199.38,118.83 L200.23,119.89 L201.09,120.94 L201.94,121.99 L202.79,123.03 L203.65,124.07 L204.50,125.09 L205.35,126.11 L206.21,127.12 L207.06,128.12 L207.91,129.12 L208.77,130.10 L209.62,131.08 L210.48,132.05 L211.33,133.02 L212.18,133.97 L213.04,134.92 L213.89,135.86 L214.74,136.80 L215.60,137.72 L216.45,138.64 L217.30,139.55 L218.16,140.46 L219.01,141.35 L219.86,142.24 L220.72,143.12 L221.57,144.00 L222.43,144.86 L223.28,145.72 L224.13,146.57 L224.99,147.41 L225.84,148.25 L226.69,149.08" stroke="#ff00ff" stroke-dasharray="2.34,3.51"/>
<path d="M226.69,149.08 L227.55,149.90 L228.40,150.72 L229.25,151.53 L230.11,152.33 L230.96,153.12 L231.82,153.91 L232.67,154.69 L233.52,155.46 L234.38,156.22 L235.23,156.98 L236.08,157.74 L236.94,158.48 L237.79,159.22 L238.64,159.95 L239.50,160.68 L240.35,161.40 L241.21,162.11 L242.06,162.81 L242.91,163.51 L243.77,164.21 L244.62,164.89 L245.47,165.57 L246.33,166.25 L247.18,166.92 L248.03,167.58 L248.89,168.23 L249.74,168.88 L250.60,169.53 L251.45,170.17 L252.30,170.80 L253.16,171.42 L254.01,172.04 L254.86,172.66 L255.72,173.27 L256.57,173.87 L257.42,174.47 L258.28,175.06 L259.13,175.65 L259.98,176.23 L260.84,176.81 L261.69,177.38 L262.55,177.94 L263.40,178.50 L264.25,179.06 L265.11,179.61 L265.96,180.15 L266.81,180.69 L267.67,181.23 L268.52,181.76 L269.37,182.28 L270.23,182.80" stroke="#ff00ff" stroke-dasharray="2.34,3.51"/>
<path d="M270.23,182.80 L271.08,183.31 L271.94,183.82 L272.79,184.33 L273.64,184.83 L274.50,185.33 L275.35,185.82 L276.20,186.30 L277.06,186.78 L277.91,187.26 L278.76,187.73 L279.62,188.20 L280.47,188.67 L281.33,189.13 L282.18,189.58 L283.03,190.03 L283.89,190.48 L284.74,190.92 L285.59,191.36 L286.45,191.79 L287.30,192.22 L288.15,192.65 L289.01,193.07 L289.86,193.49 L290.72,193.90 L291.57,194.31 L292.42,194.72 L293.28,195.12 L294.13,195.52 L294.98,195.91 L295.84,196.30 L296.69,196.69 L297.54,197.07 L298.40,197.45 L299.25,197.83 L300.10,198.20 L300.96,198.57 L301.81,198.93 L302.67,199.30 L303.52,199.65 L304.37,200.01 L305.23,200.36 L306.08,200.71 L306.93,201.05 L307.79,201.39 L308.64,201.73 L309.49,202.07 L310.35,202.40 L311.20,202.73 L312.06,203.05 L312.91,203.37 L313.76,203.69 L314.62,204.01 L315.47,204.32 L316.32,204.63 L317.18,204.94 L318.03,205.24 L318.88,205.54 L319.74,205.84 L320.59,206.13 L321.45,206.42 L322.30,206.71 L323.15,207.00 L324.01,207.28 L324.86,207.56 L325.71,207.84 L326.57,208.12 L327.42,208.39 L328.27,208.66 L329.13,208.93 L329.98,209.19 L330.84,209.45 L331.69,209.71 L332.54,209.97 L333.40,210.22 L334.25,210.47 L335.10,210.72 L335.96,210.97 L336.81,211.21 L337.66,211.46 L338.52,211.70 L339.37,211.93 L340.23,212.17 L341.08,212.40 L341.93,212.63 L342.79,212.86 L343.64,213.08 L344.49,213.31 L345.35,213.53 L346.20,213.75 L347.05,213.96 L347.91,214.18 L348.76,214.39 L349.61,214.60 L350.47,214.81 L351.32,215.01 L352.18,215.22 L353.03,215.42 L353.88,215.62 L354.74,215.82 L355.59,216.01 L356.44,216.21 L357.30,216.40 L358.15,216.59 L359.00,216.77 L359.86,216.96 L360.71,217.14 L361.57,217.33 L362.42,217.51 L363.27,217.69 L364.13,217.86 L364.98,218.04 L365.83,218.21 L366.69,218.38 L367.54,218.55 L368.39,218.72 L369.25,218.88 L370.10,219.05 L370.96,219.21 L371.81,219.37 L372.66,219.53 L373.52,219.69 L374.37,219.84 L375.22,220.00 L376.08,220.15 L376.93,220.30 L377.78,220.45 L378.64,220.60 L379.49,220.74 L380.35,220.89 L381.20,221.03 L382.05,221.17 L382.91,221.31 L383.76,221.45 L384.61,221.59 L385.47,221.72 L386.32,221.86" stroke="#ff00ff" stroke-dasharray="2.34,3.51"/>
<path d="M386.32,221.86 L387.17,221.99 L388.03,222.12 L388.88,222.25 L389.73,222.38 L390.59,222.51 L391.44,222.63 L392.30,222.76 L393.15,222.88 L394.00,223.00 L394.86,223.12 L395.71,223.24 L396.56,223.36 L397.42,223.47 L398.27,223.59 L399.12,223.70 L399.98,223.81 L400.83,223.93 L401.69,224.04 L402.54,224.14 L403.39,224.25 L404.25,224.36 L405.10,224.46" stroke="#ff00ff" stroke-dasharray="2.34,3.51"/>
<path d="M94.20,223.74 L94.22,223.47 L94.24,223.19 L94.27,222.89 L94.29,222.58 L94.31,222.26 L94.34,221.93 L94.36,221.58 L94.39,221.23 L94.41,220.85 L94.44,220.47 L94.47,220.07 L94.49,219.66 L94.52,219.24 L94.55,218.80 L94.58,218.36 L94.61,217.89 L94.64,217.42 L94.67,216.93 L94.70,216.43 L94.73,215.91 L94.76,215.39 L94.80,214.85 L94.83,214.29 L94.87,213.73 L94.90,213.15 L94.94,212.56 L94.97,211.95 L95.01,211.34 L95.05,210.71 L95.09,210.07 L95.13,209.42 L95.17,208.76 L95.21,208.08 L95.26,207.40 L95.30,206.70 L95.34,206.00 L95.39,205.28 L95.44,204.55 L95.48,203.81 L95.53,203.07 L95.58,202.31 L95.63,201.54 L95.68,200.76 L95.73,199.98 L95.79,199.18 L95.84,198.38 L95.90,197.57 L95.95,196.75 L96.01,195.92 L96.07,195.08 L96.13,194.24 L96.19,193.39 L96.26,192.53 L96.32,191.66 L96.39,190.79 L96.45,189.90 L96.52,189.02 L96.59,188.12 L96.66,187.21 L96.73,186.30 L96.81,185.39 L96.88,184.46 L96.96,183.53 L97.04,182.59 L97.12,181.64 L97.20,180.69 L97.29,179.73 L97.37,178.76 L97.46,177.78 L97.55,176.80 L97.64,175.80 L97.73,174.80 L97.83,173.80 L97.92,172.78 L98.02,171.76 L98.12,170.72 L98.22,169.68 L98.33,168.63 L98.44,167.57 L98.55,166.50 L98.66,165.42 L98.77,164.33 L98.89,163.23 L99.01,162.12 L99.13,161.00 L99.25,159.87 L99.38,158.73 L99.50,157.57 L99.64,156.41 L99.77,155.23 L99.91,154.04 L100.05,152.84 L100.19,151.62 L100.33,150.39 L100.48,149.15 L100.63,147.90 L100.79,146.63 L100.95,145.34 L101.11,144.05 L101.27,142.74 L101.44,141.41 L101.61,140.07 L101.79,138.71 L101.97,137.34 L102.15,135.96 L102.33,134.56 L102.52,133.14 L102.72,131.71 L102.92,130.27 L103.12,128.80 L103.32,127.33 L103.53,125.83 L103.75,124.33 L103.97,122.80 L104.19,121.27 L104.42,119.71 L104.65,118.15 L104.89,116.56 L105.13,114.97 L105.38,113.36 L105.63,111.73 L105.89,110.10 L106.15,108.45 L106.42,106.79 L106.70,105.12 L106.98,103.43 L107.26,101.74 L107.55,100.03 L107.85,98.32 L108.16,96.60 L108.47,94.87 L108.78,93.14 L109.10,91.40 L109.43,89.65 L109.77,87.90 L110.11,86.15 L110.47,84.40 L110.82,82.64 L111.19,80.89 L111.56,79.14 L111.94,77.40 L112.33,75.66 L112.73,73.93 L113.13,72.20 L113.54,70.49 L113.97,68.78 L114.40,67.09 L114.84,65.42 L115.28,63.76 L115.74,62.12 L116.21,60.50 L116.68,58.91 L117.17,57.33 L117.67,55.79 L118.17,54.27 L118.69,52.78 L119.22,51.33 L119.76,49.91 L120.31,48.52 L120.87,47.18 L121.44,45.88 L122.03,44.62 L122.62,43.40 L123.23,42.23 L123.85,41.11 L124.49,40.04 L125.14,39.03 L125.80,38.07 L126.47,37.17 L127.16,36.33 L127.86,35.55 L128.58,34.83 L129.31,34.18 L130.06,33.60 L130.82,33.08 L131.60,32.64 L132.40,32.27 L133.21,31.97 L134.04,31.74 L134.88,31.60 L135.74,31.53 L136.62,31.53 L137.52,31.62 L138.44,31.79 L139.38,32.04 L140.33,32.37 L141.31,32.79 L142.30,33.29 L143.32,33.87 L144.35,34.54 L145.41,35.29 L146.49,36.13 L147.59,37.04 L148.72,38.05 L149.87,39.13 L150.72,39.98 L151.58,40.85 L152.43,41.76 L153.28,42.69 L154.14,43.65 L154.99,44.63 L155.84,45.63 L156.70,46.65 L157.55,47.70 L158.40,48.76 L159.26,49.84 L160.11,50.93 L160.97,52.04 L161.82,53.17 L162.67,54.30 L163.53,55.45 L164.38,56.60 L165.23,57.77 L166.09,58.95 L166.94,60.13 L167.79,61.32 L168.65,62.52 L169.50,63.72 L170.36,64.93 L171.21,66.14 L172.06,67.35 L172.92,68.57 L173.77,69.79 L174.62,71.02 L175.48,72.24 L176.33,73.46 L177.18,74.69 L178.04,75.91 L178.89,77.14 L179.74,78.36 L180.60,79.58 L181.45,80.80 L182.31,82.02 L183.16,83.24 L184.01,84.45 L184.87,85.66 L185.72,86.87 L186.57,88.07 L187.43,89.27 L188.28,90.47 L189.13,91.66 L189.99,92.85 L190.84,94.03 L191.70,95.21 L192.55,96.38 L193.40,97.55 L194.26,98.71 L195.11,99.87 L195.96,101.02 L196.82,102.16 L197.67,103.30 L198.52,104.43 L199.38,105.56 L200.23,106.68 L201.09,107.79 L201.94,108.90 L202.79,110.00 L203.65,111.09 L204.50,112.18 L205.35,113.26 L206.21,114.34 L207.06,115.40 L207.91,116.46 L208.77,117.52 L209.62,118.56 L210.48,119.60 L211.33,120.63 L212.18,121.66 L213.04,122.67 L213.89,123.69 L214.74,124.69 L215.60,125.68 L216.45,126.67 L217.30,127.66 L218.16,128.63 L219.01,129.60 L219.86,130.56 L220.72,131.51 L221.57,132.46 L222.43,133.39 L223.28,134.32 L224.13,135.25 L224.99,136.17 L225.84,137.08 L226.69,137.98 L227.55,138.87 L228.40,139.76 L229.25,140.64 L230.11,141.52 L230.96,142.38 L231.82,143.24 L232.67,144.10 L233.52,144.94 L234.38,145.78 L235.23,146.62 L236.08,147.44 L236.94,148.26 L237.79,149.07 L238.64,149.88" stroke="#00ffff" stroke-dasharray="14.52,4.84,2.42,4.84" stroke-dashoffset="1.00"/>
<path d="M238.64,149.88 L239.50,150.67 L240.35,151.47 L241.21,152.25 L242.06,153.03 L242.91,153.80 L243.77,154.57 L244.62,155.33 L245.47,156.08 L246.33,156.82 L247.18,157.56 L248.03,158.30 L248.89,159.02 L249.74,159.74 L250.60,160.46 L251.45,161.16 L252.30,161.87 L253.16,162.56 L254.01,163.25 L254.86,163.94 L255.72,164.61 L256.57,165.28 L257.42,165.95 L258.28,166.61 L259.13,167.27 L259.98,167.91 L260.84,168.56 L261.69,169.19 L262.55,169.83 L263.40,170.45 L264.25,171.07 L265.11,171.69 L265.96,172.30 L266.81,172.90 L267.67,173.50 L268.52,174.09 L269.37,174.68 L270.23,175.26 L271.08,175.84 L271.94,176.41 L272.79,176.98 L273.64,177.54 L274.50,178.10 L275.35,178.65 L276.20,179.20 L277.06,179.74 L277.91,180.28 L278.76,180.81 L279.62,181.34 L280.47,181.86 L281.33,182.38 L282.18,182.89 L283.03,183.40 L283.89,183.91 L284.74,184.41 L285.59,184.90 L286.45,185.39 L287.30,185.88 L288.15,186.36 L289.01,186.84 L289.86,187.31 L290.72,187.78 L291.57,188.24 L292.42,188.70 L293.28,189.15 L294.13,189.61 L294.98,190.05 L295.84,190.49 L296.69,190.93 L297.54,191.37 L298.40,191.80 L299.25,192.23 L300.10,192.65 L300.96,193.07 L301.81,193.48 L302.67,193.89 L303.52,194.30 L304.37,194.70 L305.23,195.10 L306.08,195.50 L306.93,195.89 L307.79,196.28 L308.64,196.66 L309.49,197.04 L310.35,197.42 L311.20,197.79 L312.06,198.16 L312.91,198.53 L313.76,198.89 L314.62,199.25 L315.47,199.61 L316.32,199.96 L317.18,200.31 L318.03,200.66 L318.88,201.00 L319.74,201.34 L320.59,201.68 L321.45,202.01 L322.30,202.34 L323.15,202.67 L324.01,202.99 L324.86,203.32 L325.71,203.63 L326.57,203.95 L327.42,204.26 L328.27,204.57 L329.13,204.87 L329.98,205.18 L330.84,205.48 L331.69,205.77 L332.54,206.07 L333.40,206.36 L334.25,206.65 L335.10,206.93 L335.96,207.22 L336.81,207.50 L337.66,207.77 L338.52,208.05 L339.37,208.32 L340.23,208.59 L341.08,208.86 L341.93,209.12 L342.79,209.38 L343.64,209.64 L344.49,209.90 L345.35,210.15 L346.20,210.40 L347.05,210.65 L347.91,210.90 L348.76,211.14 L349.61,211.38 L350.47,211.62 L351.32,211.86 L352.18,212.09 L353.03,212.32 L353.88,212.55 L354.74,212.78 L355.59,213.01 L356.44,213.23 L357.30,213.45 L358.15,213.67 L359.00,213.89 L359.86,214.10 L360.71,214.31 L361.57,214.52 L362.42,214.73 L363.27,214.93 L364.13,215.14 L364.98,215.34 L365.83,215.54 L366.69,215.74 L367.54,215.93 L368.39,216.13 L369.25,216.32 L370.10,216.51 L370.96,216.69 L371.81,216.88 L372.66,217.06 L373.52,217.25 L374.37,217.43 L375.22,217.60 L376.08,217.78 L376.93,217.95 L377.78,218.13 L378.64,218.30 L379.49,218.47 L380.35,218.63 L381.20,218.80 L382.05,218.96 L382.91,219.13 L383.76,219.29 L384.61,219.45 L385.47,219.60" stroke="#00ffff" stroke-dasharray="14.52,4.84,2.42,4.84"/>
<path d="M385.47,219.60 L386.32,219.76 L387.17,219.91 L388.03,220.06 L388.88,220.21 L389.73,220.36 L390.59,220.51 L391.44,220.66 L392.30,220.80 L393.15,220.94 L394.00,221.08 L394.86,221.22 L395.71,221.36 L396.56,221.50 L397.42,221.63 L398.27,221.77 L399.12,221.90 L399.98,222.03 L400.83,222.16 L401.69,222.29 L402.54,222.41 L403.39,222.54 L404.25,222.66 L405.10,222.79" stroke="#00ffff" stroke-dasharray="14.52,4.84,2.42,4.84"/>
<path d="M237.79,149.07 L238.64,149.88" stroke="#00ffff"/>
</g>
<path d="M93.15,20.2 H405.1 V233.6 H93.15 Z" fill="none" stroke="#000" stroke-width="1.6" stroke-linejoin="miter"/>
<path d="M164.05,233.6 v-7.7 M164.05,20.2 v7.7 M234.95,233.6 v-7.7 M234.95,20.2 v7.7 M305.84,233.6 v-7.7 M305.84,20.2 v7.7 M376.74,233.6 v-7.7 M376.74,20.2 v7.7 M93.15,198.03 h7.7 M405.1,198.03 h-7.7 M93.15,162.47 h7.7 M405.1,162.47 h-7.7 M93.15,126.90 h7.7 M405.1,126.90 h-7.7 M93.15,91.33 h7.7 M405.1,91.33 h-7.7 M93.15,55.77 h7.7 M405.1,55.77 h-7.7" fill="none" stroke="#000" stroke-width="1.6"/>
<text x="83" y="239.50" text-anchor="end">0</text>
<text x="83" y="203.93" text-anchor="end">0.0<tspan class="h">1</tspan></text>
<text x="83" y="168.37" text-anchor="end">0.02</text>
<text x="83" y="132.80" text-anchor="end">0.03</text>
<text x="83" y="97.23" text-anchor="end">0.04</text>
<text x="83" y="61.67" text-anchor="end">0.05</text>
<text x="83" y="26.10" text-anchor="end">0.06</text>
<text x="95.50" y="256.7" text-anchor="middle">0</text>
<text x="166.40" y="256.7" text-anchor="middle">0.5</text>
<text x="237.30" y="256.7" text-anchor="middle"><tspan class="h">1</tspan></text>
<text x="308.19" y="256.7" text-anchor="middle"><tspan class="h">1</tspan>.5</text>
<text x="379.09" y="256.7" text-anchor="middle">2</text>
<text x="249.1" y="279.5" text-anchor="middle">k/k<tspan class="s" dy="5.1">F</tspan></text>
<text transform="translate(18.3,127.0) rotate(-90)" text-anchor="middle">ρ<tspan class="s" dy="4.0">B</tspan></text>
<path d="M336.1,36.35 H385.0" stroke="#ff0000" stroke-width="1.6" fill="none"/>
<text x="326" y="41.70" text-anchor="end">(k<tspan class="s" dy="5.1">F</tspan><tspan dy="-5.1">a)</tspan><tspan class="s" dy="-8.5">-<tspan class="h">1</tspan></tspan><tspan dy="8.5">=</tspan><tspan dx="-1.2">-5.0</tspan></text>
<path d="M336.1,53.31 H385.0" stroke="#00ff00" stroke-width="1.6" fill="none" stroke-dasharray="9.80,4.90"/>
<text x="326" y="58.66" text-anchor="end">(k<tspan class="s" dy="5.1">F</tspan><tspan dy="-5.1">a)</tspan><tspan class="s" dy="-8.5">-<tspan class="h">1</tspan></tspan><tspan dy="8.5">=</tspan><tspan dx="-1.2">-<tspan class="h">1</tspan>.0</tspan></text>
<path d="M336.1,70.27 H385.0" stroke="#0000ff" stroke-width="1.6" fill="none" stroke-dasharray="4.90,7.35"/>
<text x="326" y="75.62" text-anchor="end">(k<tspan class="s" dy="5.1">F</tspan><tspan dy="-5.1">a)</tspan><tspan class="s" dy="-8.5">-<tspan class="h">1</tspan></tspan><tspan dy="8.5">=</tspan><tspan dx="-1.2">-0.5</tspan></text>
<path d="M336.1,87.23 H385.0" stroke="#ff00ff" stroke-width="1.6" fill="none" stroke-dasharray="2.45,3.68"/>
<text x="326" y="92.58" text-anchor="end">(k<tspan class="s" dy="5.1">F</tspan><tspan dy="-5.1">a)</tspan><tspan class="s" dy="-8.5">-<tspan class="h">1</tspan></tspan><tspan dy="8.5">=</tspan><tspan dx="-1.2">-0.<tspan class="h">1</tspan></tspan></text>
<path d="M336.1,104.19 H385.0" stroke="#00ffff" stroke-width="1.6" fill="none" stroke-dasharray="14.70,4.90,2.45,4.90"/>
<text x="326" y="109.54" text-anchor="end">(k<tspan class="s" dy="5.1">F</tspan><tspan dy="-5.1">a)</tspan><tspan class="s" dy="-8.5">-<tspan class="h">1</tspan></tspan><tspan dy="8.5">=</tspan><tspan dx="-1.2">0.0</tspan></text>
<g><path d="M254,0 H342 V709 H285 C270,620 200,572 101,568 V505 H254 Z" transform="translate(73.53,203.93) scale(0.01700,-0.01700)" fill="#000"/><path d="M254,0 H342 V709 H285 C270,620 200,572 101,568 V505 H254 Z" transform="translate(232.57,256.70) scale(0.01700,-0.01700)" fill="#000"/><path d="M254,0 H342 V709 H285 C270,620 200,572 101,568 V505 H254 Z" transform="translate(296.36,256.70) scale(0.01700,-0.01700)" fill="#000"/><path d="M254,0 H342 V709 H285 C270,620 200,572 101,568 V505 H254 Z" transform="translate(280.40,33.20) scale(0.01360,-0.01360)" fill="#000"/><path d="M254,0 H342 V709 H285 C270,620 200,572 101,568 V505 H254 Z" transform="translate(280.37,50.16) scale(0.01360,-0.01360)" fill="#000"/><path d="M254,0 H342 V709 H285 C270,620 200,572 101,568 V505 H254 Z" transform="translate(302.34,58.66) scale(0.01700,-0.01700)" fill="#000"/><path d="M254,0 H342 V709 H285 C270,620 200,572 101,568 V505 H254 Z" transform="translate(280.40,67.12) scale(0.01360,-0.01360)" fill="#000"/><path d="M254,0 H342 V709 H285 C270,620 200,572 101,568 V505 H254 Z" transform="translate(280.39,84.08) scale(0.01360,-0.01360)" fill="#000"/><path d="M254,0 H342 V709 H285 C270,620 200,572 101,568 V505 H254 Z" transform="translate(316.53,92.58) scale(0.01700,-0.01700)" fill="#000"/><path d="M254,0 H342 V709 H285 C270,620 200,572 101,568 V505 H254 Z" transform="translate(286.06,101.04) scale(0.01360,-0.01360)" fill="#000"/></g></svg></body></html>
